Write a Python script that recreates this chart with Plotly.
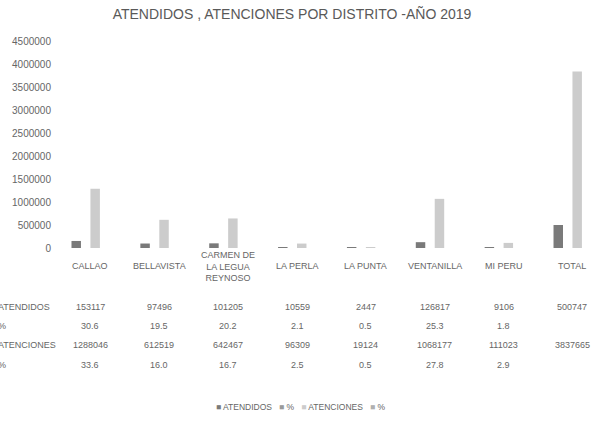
import plotly.graph_objects as go

categories = ["CALLAO", "BELLAVISTA", "CARMEN DE<br>LA LEGUA<br>REYNOSO", "LA PERLA",
              "LA PUNTA", "VENTANILLA", "MI PERU", "TOTAL"]
atendidos = [153117, 97496, 101205, 10559, 2447, 126817, 9106, 500747]
pct_atendidos = [30.6, 19.5, 20.2, 2.1, 0.5, 25.3, 1.8, None]
atenciones = [1288046, 612519, 642467, 96309, 19124, 1068177, 111023, 3837665]
pct_atenciones = [33.6, 16.0, 16.7, 2.5, 0.5, 27.8, 2.9, None]
y_ticks = [0, 500000, 1000000, 1500000, 2000000, 2500000, 3000000, 3500000, 4000000, 4500000]

series = [
    ("ATENDIDOS", atendidos, "#7a7a7a"),
    ("%", pct_atendidos, "#9a9a9a"),
    ("ATENCIONES", atenciones, "#cccccc"),
    ("%", pct_atenciones, "#b0b0b0"),
]

xs = list(range(len(categories)))
fig = go.Figure()
for name, vals, col in series:
    fig.add_trace(go.Bar(x=xs, y=vals, name=name, showlegend=False,
                         marker=dict(color=col, line=dict(width=0))))

FW, FH = 596, 424
L, T, B_Y = 56, 41, 248
W = FW - L
H = B_Y - T
spacing = 68.86
x0 = -0.5
x1 = x0 + W / spacing

def py(p):
    return (B_Y - p) / H

def px(p):
    return (p - L) / W

txt = "#666666"
ann = []
for i, c in enumerate(categories):
    ann.append(dict(x=i, y=py(266), xref="x", yref="paper", text=c, showarrow=False,
                    font=dict(size=9, color=txt), yanchor="middle", xanchor="center"))

def fmt(v, pct=False):
    if v is None:
        return ""
    return f"{v:.1f}" if pct else str(v)

rows = [(307, "ATENDIDOS", atendidos, False), (326, "%", pct_atendidos, True),
        (345, "ATENCIONES", atenciones, False), (365, "%", pct_atenciones, True)]
for ypix, label, vals, pct in rows:
    ann.append(dict(x=px(-4), y=py(ypix), xref="paper", yref="paper", text=label, showarrow=False,
                    font=dict(size=9, color=txt), xanchor="left", yanchor="middle"))
    for i, v in enumerate(vals):
        t = fmt(v, pct)
        if t:
            ann.append(dict(x=i, y=py(ypix), xref="x", yref="paper", text=t, showarrow=False,
                            font=dict(size=9, color=txt), xanchor="center", yanchor="middle"))

# legend as a single annotation with coloured squares
legend_text = "   ".join(
    f'<span style="color:{col}">■</span> {name}' for name, _, col in series)
ann.append(dict(x=px(300), y=py(407), xref="paper", yref="paper", text=legend_text,
                showarrow=False, font=dict(size=8.5, color=txt), xanchor="center", yanchor="middle"))

fig.update_layout(
    width=FW, height=FH,
    margin=dict(l=L, r=0, t=T, b=FH - B_Y, autoexpand=False),
    paper_bgcolor="white", plot_bgcolor="white",
    title=dict(text="ATENDIDOS , ATENCIONES POR DISTRITO -AÑO 2019", x=292 / FW, xanchor="center",
               y=1 - 14 / FH, yanchor="middle",
               font=dict(family="Liberation Sans, Arial", size=14, color="#595959")),
    font=dict(family="Liberation Sans, Arial", color=txt),
    barmode="group", bargap=0.45, bargroupgap=0,
    xaxis=dict(range=[x0, x1], showticklabels=False, showgrid=False, zeroline=False,
               showline=False, ticks="", automargin=False),
    yaxis=dict(range=[0, 4500000], tickvals=y_ticks, ticktext=[str(v) for v in y_ticks],
               showgrid=False, zeroline=False, showline=False, automargin=False,
               ticklabelstandoff=4, tickfont=dict(size=10, color=txt)),
    annotations=ann,
    showlegend=False,
)

fig.write_html("out.html", config={"displayModeBar": False},
               post_script="document.body.style.margin='0';document.body.style.overflow='hidden';")
